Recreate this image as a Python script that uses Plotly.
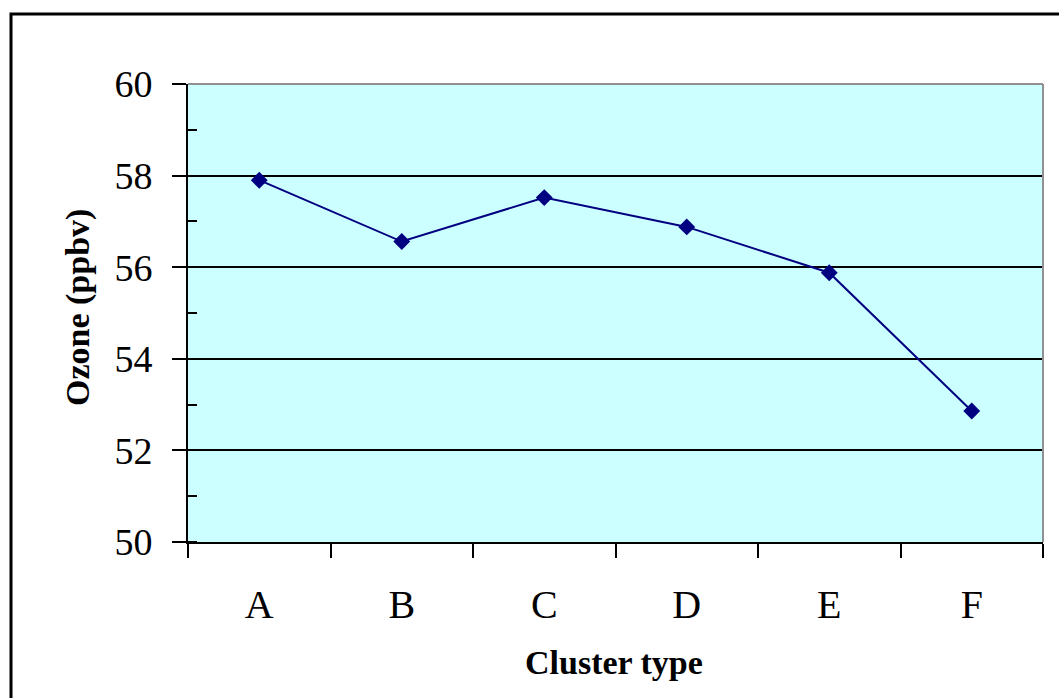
import plotly.graph_objects as go

categories = ["A", "B", "C", "D", "E", "F"]
ozone = [57.9, 56.56, 57.52, 56.88, 55.88, 52.86]
y_ticks = [50, 52, 54, 56, 58, 60]

W, H = 1059, 698
ML, MR, MT, MB = 188, 16, 84, 156
PW, PH = W - ML - MR, H - MT - MB

def px_x(p):
    return (p - ML) / PW

def px_y(p):
    return 1 - (p - MT) / PH

fig = go.Figure()
fig.add_trace(go.Scatter(
    x=categories, y=ozone, mode="lines+markers",
    line=dict(color="#000080", width=2),
    marker=dict(symbol="diamond", size=13, color="#000080"),
    showlegend=False, cliponaxis=False,
))

serif = "Liberation Serif, Times New Roman, serif"

fig.update_layout(
    width=W, height=H,
    margin=dict(l=ML, r=MR, t=MT, b=MB, autoexpand=False),
    paper_bgcolor="white",
    plot_bgcolor="#CCFFFF",
    font=dict(family=serif, color="black"),
    xaxis=dict(
        type="category", range=[-0.5, 5.5],
        tickson="boundaries", ticks="outside", ticklen=14, tickwidth=2, tickcolor="black",
        showline=True, linecolor="black", linewidth=2,
        showgrid=False, zeroline=False,
        tickfont=dict(size=40, family=serif), ticklabelstandoff=26,
        fixedrange=True,
    ),
    yaxis=dict(
        range=[50, 60], tickvals=y_ticks,
        ticks="outside", ticklen=14, tickwidth=2, tickcolor="black",
        minor=dict(ticks="inside", ticklen=9, tickwidth=2, tickcolor="black", dtick=1, tick0=50, showgrid=False),
        showline=True, linecolor="black", linewidth=2,
        showgrid=True, gridcolor="black", gridwidth=2, zeroline=False,
        tickfont=dict(size=38, family=serif), ticklabelstandoff=12,
        fixedrange=True,
    ),
    shapes=[
        dict(type="line", xref="x domain", yref="y domain", x0=0, x1=1, y0=1, y1=1,
             line=dict(color="#909090", width=2), layer="above"),
        dict(type="line", xref="x domain", yref="y domain", x0=1, x1=1, y0=0, y1=1,
             line=dict(color="#909090", width=2), layer="above"),
        dict(type="rect", xref="paper", yref="paper",
             x0=px_x(11), x1=px_x(1075), y0=px_y(14), y1=px_y(715),
             line=dict(color="black", width=3), layer="above"),
    ],
    annotations=[
        dict(text="<b>Ozone (ppbv)</b>", xref="paper", yref="paper",
             x=px_x(78), y=px_y(308), xanchor="center", yanchor="middle",
             textangle=-90, showarrow=False, font=dict(size=34, family=serif)),
        dict(text="<b>Cluster type</b>", xref="paper", yref="paper",
             x=px_x(614), y=px_y(662), xanchor="center", yanchor="middle",
             showarrow=False, font=dict(size=34, family=serif)),
    ],
)

fig.write_html("out.html")
